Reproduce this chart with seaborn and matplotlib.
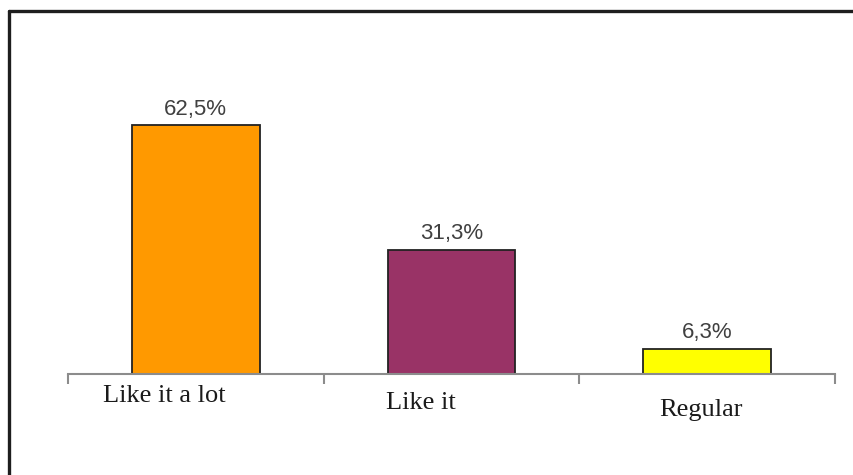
import matplotlib
matplotlib.use("Agg")
import matplotlib.pyplot as plt
import matplotlib.transforms as mtransforms
from matplotlib.lines import Line2D
import seaborn as sns
import pandas as pd

# Survey answers and their shares (%)
categories = ["Like it a lot", "Like it", "Regular"]
shares = [62.5, 31.3, 6.3]
bar_colors = ["#FF9900", "#993366", "#FFFF00"]

sns.set_style("white")
plt.rcParams["font.family"] = ["Liberation Sans", "DejaVu Sans"]

df = pd.DataFrame({"answer": categories, "share": shares})

fig = plt.figure(figsize=(8.54, 4.75), dpi=100)
ax = fig.add_axes([68 / 854, 101 / 475, 767 / 854, 334 / 475])

sns.barplot(data=df, x="answer", y="share", hue="answer",
            palette=dict(zip(categories, bar_colors)), width=0.5, saturation=1,
            edgecolor="#222222", linewidth=1.3, legend=False, ax=ax)

ax.set_xlim(-0.5, 2.5)
ax.set_ylim(0, 84)
ax.set_xlabel("")
ax.set_ylabel("")
ax.set_yticks([])

for side in ("top", "right", "left"):
    ax.spines[side].set_visible(False)
ax.spines["bottom"].set_color("#8c8c8c")
ax.spines["bottom"].set_linewidth(1.5)

# Ticks sit at category boundaries; labels are centred under each bar
ax.set_xticks([-0.5, 0.5, 1.5, 2.5], minor=True)
ax.tick_params(axis="x", which="minor", length=7, width=1.5, color="#8c8c8c",
               direction="out", bottom=True)
ax.tick_params(axis="x", which="major", length=0, pad=8)
ax.set_xticks(range(len(categories)))
ax.set_xticklabels(categories, family=["Liberation Serif", "DejaVu Serif"],
                   fontsize=19, color="#1a1a1a")

label_offsets = [(-32, 0), (-31, -7), (-6, -14)]
for lbl, (dx, dy) in zip(ax.get_xticklabels(), label_offsets):
    lbl.set_transform(lbl.get_transform() +
                      mtransforms.ScaledTranslation(dx / 100, dy / 100,
                                                    fig.dpi_scale_trans))

for container in ax.containers:
    ax.bar_label(container,
                 labels=[f"{v:.1f}%".replace(".", ",") for v in container.datavalues],
                 padding=4, fontsize=16, color="#404040")

# Outer frame (top and left edges)
fig.add_artist(Line2D([9 / 854, 1.0], [1 - 11 / 475, 1 - 11 / 475],
                      transform=fig.transFigure, color="#1e1e1e", linewidth=2.4))
fig.add_artist(Line2D([9 / 854, 9 / 854], [0.0, 1 - 11 / 475],
                      transform=fig.transFigure, color="#1e1e1e", linewidth=2.4))

fig.savefig("out.png", dpi=100)
